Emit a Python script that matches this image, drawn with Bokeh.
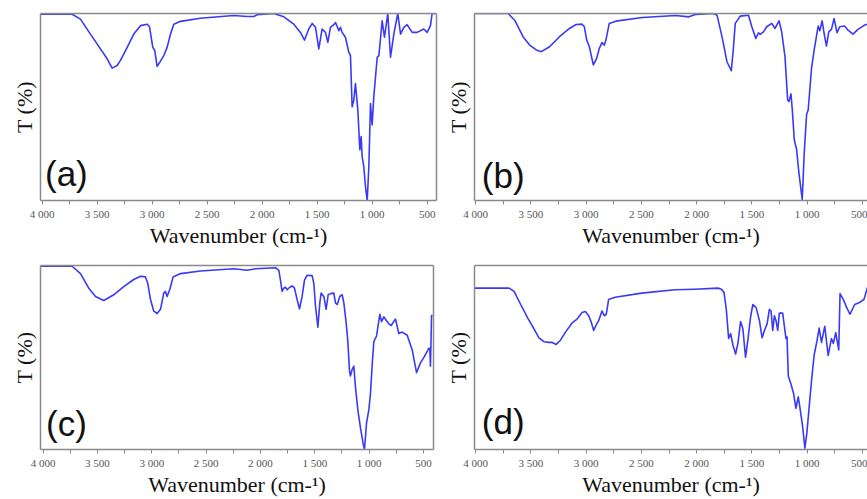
from bokeh.plotting import figure
from bokeh.models import (ColumnDataSource, Range1d, FixedTicker, LinearAxis,
                          Label, CustomJSTickFormatter)
from bokeh.layouts import column, row
from bokeh.embed import file_html
from bokeh.resources import INLINE

# ---------------- data (wavenumber cm-1, transmittance as % of panel height) ----
wn_a = [4015, 3727, 3652, 3561, 3470, 3409, 3364, 3318, 3288, 3227, 3167, 3106, 3045, 3024, 3009, 2994,
        2976, 2955, 2930, 2894, 2864, 2833, 2803, 2742, 2561, 2258, 2136, 2076, 2045, 1894, 1803, 1712,
        1652, 1615, 1576, 1545, 1515, 1485, 1455, 1424, 1403, 1379, 1349, 1333, 1303, 1288, 1273, 1243,
        1212, 1197, 1182, 1167, 1152, 1130, 1112, 1100, 1091, 1076, 1061, 1045, 1030, 1015, 1000, 985,
        954, 939, 909, 888, 858, 833, 803, 767, 742, 712, 682, 636, 591, 530, 500, 470, 455, 424]
t_a = [99.6, 99.6, 97.0, 89.0, 81.1, 75.8, 70.8, 72.2, 74.9, 81.9, 89.0, 93.5, 94.3, 92.9, 87.3, 81.9,
       80.2, 71.7, 74.0, 77.5, 81.9, 89.0, 94.3, 95.8, 97.5, 98.9, 98.4, 98.4, 99.3, 100, 98.2, 94.3,
       89.9, 85.8, 91.7, 94.7, 92.6, 81.1, 91.7, 89.9, 84.6, 92.6, 94.0, 95.2, 90.8, 92.6, 89.9, 87.3,
       79.3, 77.5, 50.1, 53.6, 62.5, 48.3, 27.1, 34.2, 23.5, 18.2, 7.6, 0, 18.2, 51.9, 40.4, 55.4,
       76.6, 77.5, 96.1, 87.3, 100, 76.6, 89.0, 100, 89.0, 92.6, 94.0, 89.9, 89.9, 91.7, 89.9, 93.5, 100, 100]

wn_b = [4010, 3706, 3646, 3571, 3511, 3451, 3406, 3331, 3241, 3151, 3091, 3037, 3016, 2995, 2971, 2935,
        2905, 2881, 2857, 2836, 2821, 2791, 2731, 2491, 2191, 2071, 2011, 1846, 1816, 1771, 1726, 1687,
        1669, 1651, 1606, 1531, 1501, 1465, 1441, 1426, 1396, 1366, 1321, 1291, 1255, 1231, 1201, 1177,
        1165, 1147, 1135, 1117, 1096, 1075, 1045, 1027, 1006, 991, 961, 937, 901, 886, 865, 847, 826,
        805, 781, 757, 730, 706, 661, 631, 586, 541, 481, 451, 406]
t_b = [100, 100, 96.4, 87.6, 83.1, 80.5, 79.6, 82.2, 87.6, 92.0, 94.1, 94.3, 92.9, 85.8, 82.2, 72.5,
       76.0, 81.3, 84.4, 83.1, 85.8, 94.7, 95.9, 97.9, 98.9, 98.2, 99.5, 100, 99.1, 87.6, 74.2, 69.4,
       80.5, 94.7, 98.6, 99.1, 92.9, 86.7, 89.7, 88.8, 90.2, 92.9, 94.7, 92.0, 96.1, 90.2, 76.9, 53.8,
       52.9, 57.0, 48.5, 32.5, 27.2, 14.7, 0.5, 25.4, 45.8, 48.5, 70.7, 80.5, 93.3, 90.8, 96.1, 89.3, 82.6,
       90.2, 91.5, 97.3, 89.7, 92.9, 93.3, 91.1, 89.0, 91.5, 93.8, 94.3, 94.7]

wn_c = [4024, 3733, 3656, 3580, 3518, 3442, 3350, 3258, 3166, 3104, 3058, 3037, 3012, 2982, 2951, 2920,
        2890, 2874, 2859, 2834, 2804, 2736, 2552, 2245, 2123, 2046, 1862, 1831, 1816, 1801, 1785, 1770,
        1755, 1730, 1708, 1687, 1663, 1641, 1617, 1595, 1571, 1525, 1509, 1494, 1472, 1454, 1442, 1417,
        1396, 1377, 1356, 1325, 1310, 1294, 1270, 1248, 1233, 1212, 1196, 1181, 1172, 1156, 1141, 1126,
        1104, 1080, 1055, 1043, 1024, 1003, 988, 972, 957, 932, 902, 886, 865, 840, 819, 797, 779, 758,
        727, 696, 650, 604, 564, 528, 491, 451, 442, 436, 426, 417]
t_c = [99.6, 99.6, 95.6, 87.7, 83.2, 81.0, 84.1, 88.5, 92.4, 94.2, 93.8, 90.3, 81.5, 75.3, 73.9, 76.2,
       85.0, 85.9, 83.2, 87.1, 93.8, 95.6, 97.0, 98.2, 97.4, 98.2, 98.8, 97.4, 92.1, 85.9, 87.7, 88.2,
       86.8, 88.2, 88.9, 87.7, 81.5, 76.5, 83.2, 92.1, 94.7, 94.5, 90.3, 78.0, 66.5, 79.7, 85.0, 83.2,
       76.2, 84.1, 84.7, 85.0, 79.7, 78.8, 83.2, 84.1, 79.7, 69.1, 58.6, 42.7, 40.0, 43.6, 45.3, 33.9,
       21.5, 11.8, 3.0, 0, 14.5, 21.5, 30.3, 46.2, 58.6, 61.7, 73.5, 69.5, 72.1, 70.0, 68.3, 67.4, 69.1, 70.9,
       63.0, 63.8, 62.1, 54.1, 41.8, 47.1, 50.6, 55.0, 55.0, 45.3, 72.7, 73.0]

wn_d = [4012, 3697, 3652, 3592, 3532, 3472, 3427, 3382, 3337, 3307, 3271, 3232, 3187, 3127, 3082, 3037,
        3007, 2977, 2953, 2932, 2911, 2887, 2857, 2836, 2818, 2797, 2737, 2497, 2197, 2017, 1807, 1777,
        1753, 1732, 1711, 1693, 1672, 1648, 1627, 1603, 1582, 1558, 1537, 1513, 1492, 1462, 1432, 1408,
        1387, 1363, 1342, 1327, 1312, 1297, 1282, 1267, 1252, 1222, 1192, 1183, 1171, 1147, 1123, 1102,
        1081, 1063, 1042, 1021, 1003, 982, 961, 937, 913, 892, 871, 841, 811, 781, 763, 742, 715, 703,
        673, 643, 613, 571, 532, 487, 457, 397]
t_d = [87.7, 87.7, 85.9, 78.8, 71.8, 65.6, 60.7, 58.6, 58.2, 58.2, 57.1, 59.4, 63.8, 68.8, 70.9, 74.4,
       75.0, 72.7, 69.1, 64.7, 67.4, 70.0, 75.3, 72.7, 73.5, 81.5, 82.7, 85.0, 86.8, 87.1, 87.7, 87.1,
       85.4, 76.2, 60.3, 63.0, 56.8, 51.9, 57.7, 69.5, 65.6, 50.1, 59.4, 71.8, 78.8, 77.1, 70.0, 60.7,
       64.7, 68.3, 76.2, 75.3, 64.7, 72.7, 70.0, 64.7, 74.1, 74.1, 60.3, 61.2, 40.0, 35.6, 30.3, 22.4,
       28.6, 21.5, 12.7, 0.7, 9.2, 23.3, 37.4, 51.5, 58.6, 66.0, 58.2, 67.0, 51.1, 60.3, 57.7, 63.5, 54.1, 84.7,
       81.5, 77.1, 73.5, 78.8, 79.7, 81.5, 87.7, 92.0]

tick_values = [4000, 3500, 3000, 2500, 2000, 1500, 1000, 500]
minor_tick_values = [3750, 3250, 2750, 2250, 1750, 1250, 750]
panel_tags = ["(a)", "(b)", "(c)", "(d)"]
x_title = "Wavenumber (cm-\u00b9)"
y_title = "T (%)"

# ---------------- styling / layout ----------------
LINE = "#3a3af6"
FRAME = "#8a8a8a"
SERIF = "Liberation Serif"
SANS = "Liberation Sans"

W_TOTAL = 867
H_TOTAL = 499
X_SPLIT = 442               # x where right column begins
Y_SPLIT = 250               # y where second row begins
LEFT_W = X_SPLIT
RIGHT_W = W_TOTAL - LEFT_W
TOP_H = Y_SPLIT
BOT_H = H_TOTAL - TOP_H

PX_PER_UNIT_R = 0.1111
R_START = 4010
R_END = R_START - (W_TOTAL - 472) / PX_PER_UNIT_R

fmt = CustomJSTickFormatter(code="""
const t = Math.round(tick);
if (t >= 1000) { return Math.floor(t / 1000) + ' ' + String(t % 1000).padStart(3, '0'); }
return String(t);
""")


def bare_axis():
    return LinearAxis(ticker=FixedTicker(ticks=[]), axis_line_color=FRAME, axis_line_width=1.5,
                      major_tick_out=0, major_tick_in=0, minor_tick_out=0, minor_tick_in=0,
                      major_label_standoff=0, major_label_text_font_size="0px")


def make_panel(wn, t, tag, w, h, b_left, b_right, b_top, b_bottom, x_start, x_end,
               has_right, tag_dx, tag_dy):
    p = figure(width=w, height=h, x_range=Range1d(x_start, x_end), y_range=Range1d(0, 100),
               output_backend="svg", toolbar_location=None, tools="",
               min_border_left=b_left, min_border_right=b_right,
               min_border_top=b_top, min_border_bottom=b_bottom)
    p.outline_line_color = None
    p.xgrid.visible = False
    p.ygrid.visible = False
    p.background_fill_color = "white"
    p.border_fill_color = "white"

    xa = p.xaxis[0]
    xa.ticker = FixedTicker(ticks=tick_values, minor_ticks=minor_tick_values)
    xa.formatter = fmt
    xa.axis_line_color = FRAME
    xa.axis_line_width = 1.5
    xa.major_tick_out = 4
    xa.major_tick_in = 0
    xa.minor_tick_out = 4
    xa.minor_tick_in = 0
    xa.major_tick_line_color = FRAME
    xa.minor_tick_line_color = FRAME
    xa.major_label_text_font = SERIF
    xa.major_label_text_font_size = "11px"
    xa.major_label_text_color = "#555555"
    xa.major_label_standoff = 3
    xa.axis_label = x_title
    xa.axis_label_text_font = SERIF
    xa.axis_label_text_font_size = "22px"
    xa.axis_label_text_font_style = "normal"
    xa.axis_label_text_color = "#111111"
    xa.axis_label_standoff = 0

    ya = p.yaxis[0]
    ya.ticker = FixedTicker(ticks=[])
    ya.axis_line_color = FRAME
    ya.axis_line_width = 1.5
    ya.major_tick_out = 0
    ya.major_tick_in = 0
    ya.minor_tick_out = 0
    ya.minor_tick_in = 0
    ya.major_label_standoff = 0
    ya.axis_label = y_title
    ya.axis_label_text_font = SERIF
    ya.axis_label_text_font_size = "22px"
    ya.axis_label_text_font_style = "normal"
    ya.axis_label_text_color = "#111111"
    ya.axis_label_standoff = 4

    p.add_layout(bare_axis(), "above")
    if has_right:
        p.add_layout(bare_axis(), "right")

    src = ColumnDataSource(data=dict(wn=wn, t=t))
    p.line(x="wn", y="t", source=src, line_color=LINE, line_width=1.6, line_join="round")

    frame_w = w - b_left - b_right
    frame_h = h - b_top - b_bottom
    units_per_px = (x_start - x_end) / frame_w
    p.add_layout(Label(x=x_start - tag_dx * units_per_px, y=tag_dy / frame_h * 100, text=tag,
                       text_font=SANS, text_font_size="35px", text_color="#111111",
                       text_baseline="bottom", text_align="left"))
    return p


# row 1: frames at y 13..202 ; row 2 frames at y 265..~453
pa = make_panel(wn_a, t_a, panel_tags[0], LEFT_W, TOP_H, 40, X_SPLIT - 436, 13, Y_SPLIT - 202,
                4015, 415, True, 4.5, 8.0)
pb = make_panel(wn_b, t_b, panel_tags[1], RIGHT_W, TOP_H, 472 - X_SPLIT, 0, 13, Y_SPLIT - 202,
                R_START, R_END, False, 7.3, 6.0)
pc = make_panel(wn_c, t_c, panel_tags[2], LEFT_W, BOT_H, 40, X_SPLIT - 433, 265 - Y_SPLIT,
                H_TOTAL - 454, 4024, 408, True, 5.6, 7.0)
pd = make_panel(wn_d, t_d, panel_tags[3], RIGHT_W, BOT_H, 472 - X_SPLIT, 0, 265 - Y_SPLIT,
                H_TOTAL - 454, R_START, R_END, False, 7.3, 8.5)

layout = column(row(pa, pb, spacing=0), row(pc, pd, spacing=0), spacing=0)

open("out.html", "w").write(file_html(layout, INLINE))
